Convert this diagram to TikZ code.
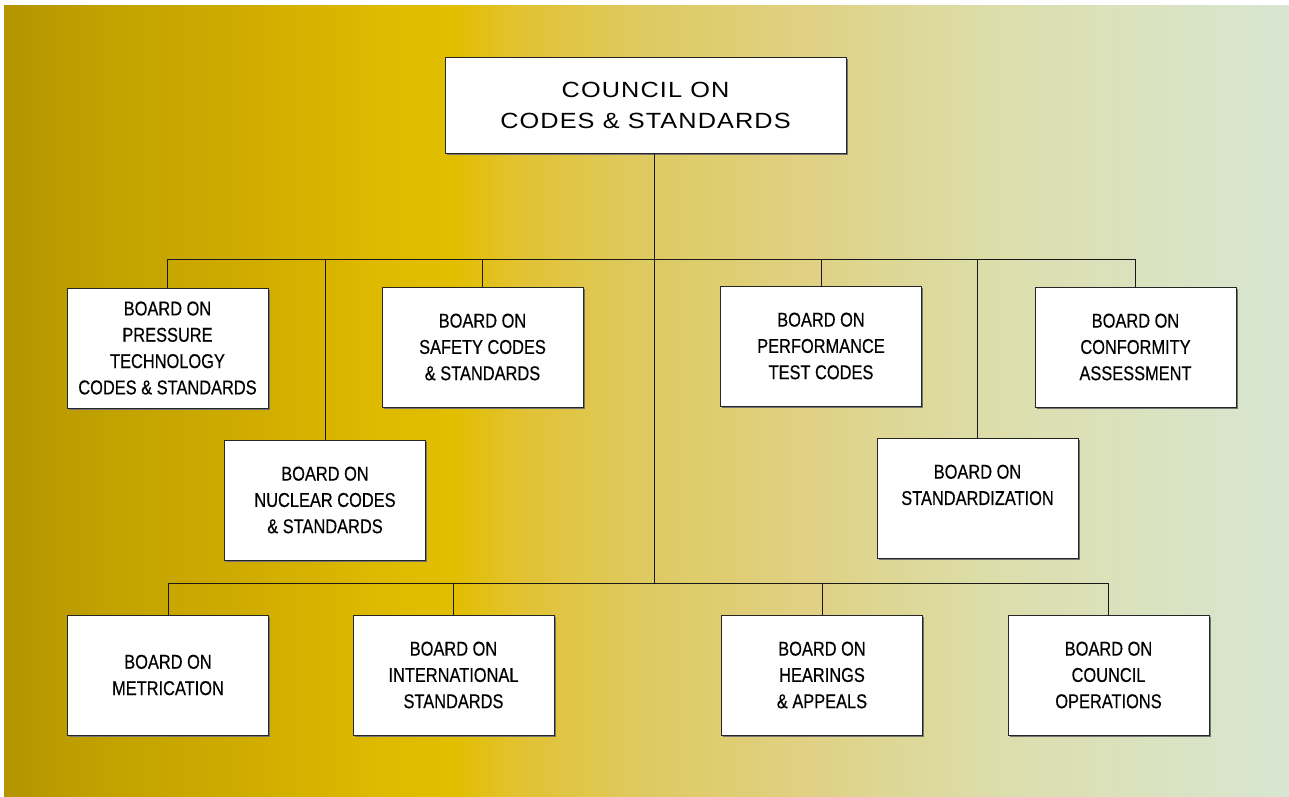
\documentclass[tikz,border=0pt]{standalone}
\usepackage{fontspec}
\usepackage{tikz}
\usetikzlibrary{shadows}
\newfontfamily\boardfont[FakeStretch=0.82,FakeBold=0.4]{Liberation Sans}
\newfontfamily\councilfont[FakeStretch=1.15,LetterSpace=5]{Liberation Sans}
\definecolor{gA}{HTML}{B49400}
\definecolor{gB}{HTML}{C2A200}
\definecolor{gC}{HTML}{D0AC00}
\definecolor{gD}{HTML}{E0BC00}
\definecolor{gE}{HTML}{E2BE00}
\definecolor{gF}{HTML}{E2C232}
\definecolor{gG}{HTML}{DECA62}
\definecolor{gH}{HTML}{E0D082}
\definecolor{gI}{HTML}{DDD898}
\definecolor{gJ}{HTML}{DCDEAC}
\definecolor{gK}{HTML}{D8E6D2}
% tikz maps the path onto 25bp..75bp of the shading
\pgfdeclarehorizontalshading{goldfade}{100bp}{color(0bp)=(gA); color(25bp)=(gA); color(29bp)=(gB); color(34.5bp)=(gC); color(40.5bp)=(gD); color(42.5bp)=(gE); color(45bp)=(gF); color(50bp)=(gG); color(56bp)=(gH); color(60bp)=(gI); color(64bp)=(gJ); color(75bp)=(gK); color(100bp)=(gK)}
\tikzset{
  board/.style={draw=black!85, fill=white, line width=1pt, align=center,
    minimum width=201pt, minimum height=120pt, text=black,
    font={\boardfont\fontsize{20}{26.3}\selectfont},
    drop shadow={shadow xshift=1.5pt, shadow yshift=-1.5pt, fill=black!55, opacity=1}},
  council/.style={board, minimum width=401pt, minimum height=96pt,
    font={\councilfont\fontsize{22}{31}\selectfont}},
  link/.style={draw=black!90, line width=0.9pt}
}

\begin{document}
\begin{tikzpicture}[x=1pt,y=-1pt]
\useasboundingbox (0,0) rectangle (1289,796);
\shade[shading=goldfade] (4,5) rectangle (1289,796);

\node(council)  at (645.5,105)[council] {COUNCIL ON\\CODES \& STANDARDS};

\node(pressure) at (167.5,348)[board] {BOARD ON\\PRESSURE\\TECHNOLOGY\\CODES \& STANDARDS};
\node(safety)   at (482.5,347)[board] {BOARD ON\\SAFETY CODES\\\& STANDARDS};
\node(perf)     at (821,346)[board]   {BOARD ON\\PERFORMANCE\\TEST CODES};
\node(conform)  at (1135.5,347)[board] {BOARD ON\\CONFORMITY\\ASSESSMENT};
\node(nuclear)  at (325,500)[board]   {BOARD ON\\NUCLEAR CODES\\\& STANDARDS};
\node(stdz)     at (977.5,498)[board] {BOARD ON\\STANDARDIZATION\\~};

\node(metric)   at (168,675)[board]   {BOARD ON\\METRICATION};
\node(intl)     at (453.5,675)[board] {BOARD ON\\INTERNATIONAL\\STANDARDS};
\node(hearing)  at (822,675)[board]   {BOARD ON\\HEARINGS\\\& APPEALS};
\node(ops)      at (1108.5,675)[board] {BOARD ON\\COUNCIL\\OPERATIONS};

\coordinate(upper) at (654,259);
\coordinate(lower) at (654,583);

% trunk and buses
\draw[link] (council.south -| upper) -- (upper) -- (lower);
\draw[link] (pressure.north) |- (upper);
\draw[link] (nuclear.north)  |- (upper);
\draw[link] (safety.north)   |- (upper);
\draw[link] (perf.north)     |- (upper);
\draw[link] (stdz.north)     |- (upper);
\draw[link] (conform.north)  |- (upper);

\draw[link] (metric.north)   |- (lower);
\draw[link] (intl.north)     |- (lower);
\draw[link] (hearing.north)  |- (lower);
\draw[link] (ops.north)      |- (lower);

\end{tikzpicture}
\end{document}
